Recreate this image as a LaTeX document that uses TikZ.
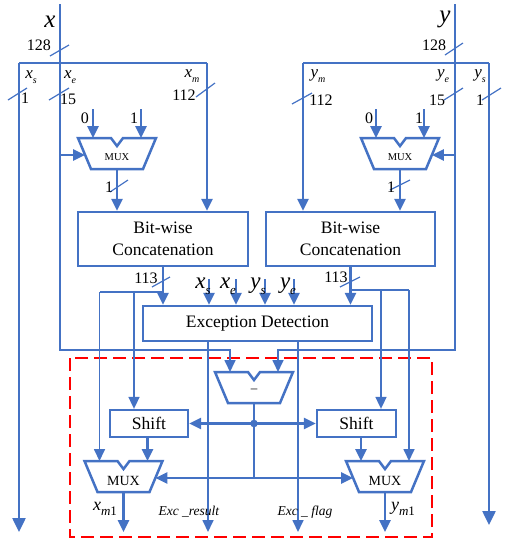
\documentclass[tikz,border=0pt]{standalone}
\usepackage{fontspec}
\setmainfont{Liberation Serif}
\usetikzlibrary{arrows.meta,calc}
\definecolor{wirec}{HTML}{4472C4}
\definecolor{redd}{HTML}{FF0000}
\newcommand{\fs}[1]{\fontsize{#1}{#1}\selectfont}
\newcommand{\vsub}[4]{{\fs{#1}\textit{#3}\raisebox{-0.3em}{\fs{#2}\textit{#4}}}}
\tikzset{
  wire/.style={draw=wirec, line width=2.5pt},
  thinwire/.style={draw=wirec, line width=1.7pt},
  arr/.style={-{Triangle[length=12pt,width=11pt]}},
  bigarr/.style={-{Triangle[length=14pt,width=13pt]}},
  slash/.style={draw=wirec, line width=1.2pt},
  box/.style={draw=wirec, line width=2.3pt, fill=white, inner sep=0pt, font=\fontsize{17.5}{22}\selectfont, align=center},
  lbl/.style={inner sep=0pt, anchor=base, font=\fs{16}},
  pics/mux/.style={code={
     \draw[wire, line join=miter] (-39,0) -- (-6,0) -- (0,8) -- (6,0) -- (39,0) -- (26,31) -- (-26,31) -- cycle;
     \coordinate (-in1) at (-24,0);
     \coordinate (-in2) at (24,0);
     \coordinate (-out) at (0,31);
     \coordinate (-selL) at (-31.9,17);
     \coordinate (-selR) at (31.9,17);
     \node[inner sep=0pt] (-lab) at (0,19.5) {#1};
  }},
}
\begin{document}
\begin{tikzpicture}[x=1pt,y=-1pt]
\useasboundingbox (0,0) rectangle (511,550);

% red dashed region
\draw[draw=redd, line width=2.5pt, dash pattern=on 13pt off 6pt] (70,358) rectangle (432,537);

% blocks
\node[box, minimum width=170pt, minimum height=54pt] (catL) at (163,239) {Bit-wise\\Concatenation};
\node[box, minimum width=169pt, minimum height=54pt] (catR) at (350.5,239) {Bit-wise\\Concatenation};
\node[box, minimum width=229pt, minimum height=35pt] (exc) at (257.5,323.5) {Exception Detection};
\node[box, minimum width=78pt, minimum height=27pt] (shL) at (149,423.5) {Shift};
\node[box, minimum width=79pt, minimum height=27pt] (shR) at (356.5,423.5) {Shift};

\pic (muxA) at (117,138) {mux={\fs{10.5}MUX}};
\pic (muxB) at (400,138) {mux={\fs{10.5}MUX}};
\pic (sub) at (254,372) {mux={\fs{13}\raisebox{2pt}{–}}};
\pic (muxC) at (123.5,461) {mux={\fs{14}MUX}};
\pic (muxD) at (385,461) {mux={\fs{14}MUX}};

% coordinates
\coordinate (xtop) at (60,4);
\coordinate (ytop) at (455,4);
\coordinate (xsb) at (19,63);
\coordinate (xmb) at (207,63);
\coordinate (ymb) at (303,63);
\coordinate (ysb) at (489,63);
\coordinate (xsend) at (19,532);
\coordinate (ysend) at (489,525);
\coordinate (xturn) at (60,350);
\coordinate (yturn) at (455,350);

% inputs x and y
\draw[thinwire,arr] (xtop) -- (xturn) -| (sub-in1);
\draw[thinwire,arr] (ytop) -- (yturn) -| (sub-in2);
\draw[wire] (xsb) -- (xmb);
\draw[wire,bigarr] (xsb) -- (xsend);
\draw[wire,arr] (xmb) -- (xmb |- catL.north);
\draw[wire] (ymb) -- (ysb);
\draw[wire,bigarr] (ysb) -- (ysend);
\draw[wire,arr] (ymb) -- (ymb |- catR.north);

% top muxes
\coordinate (a0) at (93,109);
\coordinate (a1) at (141,109);
\coordinate (b0) at (376,109);
\coordinate (b1) at (424,109);
\draw[wire,arr] (a0) -- (muxA-in1);
\draw[wire,arr] (a1) -- (muxA-in2);
\draw[wire,arr] (b0) -- (muxB-in1);
\draw[wire,arr] (b1) -- (muxB-in2);
\draw[wire,arr] (xtop |- muxA-selL) -- (muxA-selL);
\draw[wire,arr] (ytop |- muxB-selR) -- (muxB-selR);
\draw[wire,arr] (muxA-out) -- (muxA-out |- catL.north);
\draw[wire,arr] (muxB-out) -- (muxB-out |- catR.north);

% concatenation outputs
\coordinate (brL1) at (99.5,292);
\coordinate (brL2) at (134,292);
\coordinate (brL) at (catL.south |- brL1);
\coordinate (brR1) at (381,290);
\coordinate (brR2) at (409,290);
\coordinate (brR) at (catR.south |- brR1);
\draw[wire,arr] (catL.south) -- (catL.south |- exc.north);
\draw[wire,arr] (catR.south) -- (catR.south |- exc.north);
\draw[thinwire] (brL) -- (brL1);
\draw[thinwire,arr] (brL1) -- (muxC-in1);
\draw[thinwire,arr] (brL2) -- (brL2 |- shL.north);
\draw[thinwire] (brR) -- (brR2);
\draw[thinwire,arr] (brR2) -- (muxD-in2);
\draw[thinwire,arr] (brR1) -- (brR1 |- shR.north);

% exception inputs
\foreach \nm/\xx in {xs/209, xe/236, ys/265, ye/294}{
  \coordinate (in-\nm) at (\xx,279);
  \draw[wire,arr] (in-\nm) -- (in-\nm |- exc.north);
}
\node[inner sep=0pt, anchor=base] (lxs) at (203,288) {\vsub{23}{13}{x}{s}};
\node[inner sep=0pt, anchor=base] (lxe) at (228,288) {\vsub{23}{13}{x}{e}};
\node[inner sep=0pt, anchor=base] (lys) at (258,288) {\vsub{23}{13}{y}{s}};
\node[inner sep=0pt, anchor=base] (lye) at (288,288) {\vsub{23}{13}{y}{e}};

% exception outputs
\coordinate (exr) at (208,532);
\coordinate (exf) at (298,532);
\draw[thinwire,arr] (exr |- exc.south) -- (exr);
\draw[thinwire,arr] (exf |- exc.south) -- (exf);

% subtractor, shift and muxes
\coordinate (j1) at (sub-out |- shL.east);
\coordinate (j2) at (sub-out |- muxC-selR);
\draw[thinwire] (sub-out) -- (j2);
\draw[wire,arr] (j1) -- (shL.east);
\draw[wire,arr] (j1) -- (shR.west);
\fill[wirec] (j1) circle (3.8pt);
\draw[wire,arr] (j2) -- (muxC-selR);
\draw[wire,arr] (j2) -- (muxD-selL);
\draw[wire,arr] (muxC-in2 |- shL.south) -- (muxC-in2);
\draw[wire,arr] (muxD-in1 |- shR.south) -- (muxD-in1);
\coordinate (xm1) at (123.5,532);
\coordinate (ym1) at (385,532);
\draw[wire,arr] (muxC-out) -- (xm1);
\draw[wire,arr] (muxD-out) -- (ym1);

% slashes
\draw[slash] (50,56) -- (69,45);
\draw[slash] (8,100) -- (27,88);
\draw[slash] (49,100) -- (69,88);
\draw[slash] (196,97) -- (215,83);
\draw[slash] (110,192) -- (128,180);
\draw[slash] (445,55) -- (463,43);
\draw[slash] (292,104) -- (312,93);
\draw[slash] (444,100) -- (463,88);
\draw[slash] (482,100) -- (501,88);
\draw[slash] (390,190) -- (410,180);
\draw[slash] (152,287) -- (170,277);
\draw[slash] (340,287) -- (360,277);

% labels
\node[inner sep=0pt, anchor=base] (lx) at (50,27) {\fs{25}\textit{x}};
\node[inner sep=0pt, anchor=base] (ly) at (445,22) {\fs{25}\textit{y}};
\node[lbl] (l128x) at (39,50) {128};
\node[lbl] (l128y) at (434,50) {128};
\node[inner sep=0pt, anchor=base] (lxsT) at (31,78) {\vsub{17}{10}{x}{s}};
\node[inner sep=0pt, anchor=base] (lxeT) at (70,78) {\vsub{17}{10}{x}{e}};
\node[inner sep=0pt, anchor=base] (lxmT) at (192,77) {\vsub{17}{10}{x}{m}};
\node[inner sep=0pt, anchor=base] (lymT) at (318,77) {\vsub{17}{10}{y}{m}};
\node[inner sep=0pt, anchor=base] (lyeT) at (443,77) {\vsub{17}{10}{y}{e}};
\node[inner sep=0pt, anchor=base] (lysT) at (480,77) {\vsub{17}{10}{y}{s}};
\node[lbl] (l1xs) at (25,103) {1};
\node[lbl] (l15x) at (68,104) {15};
\node[lbl] (l112x) at (184,100) {112};
\node[lbl] (l112y) at (321,105) {112};
\node[lbl] (l15y) at (437,105) {15};
\node[lbl] (l1ys) at (480,105) {1};
\node[lbl] (l0a) at (85,123) {0};
\node[lbl] (l1a) at (134,123) {1};
\node[lbl] (l0b) at (369,123) {0};
\node[lbl] (l1b) at (419,123) {1};
\node[lbl] (l1oa) at (109,192) {1};
\node[lbl] (l1ob) at (391,192) {1};
\node[lbl] (l113a) at (146,283) {113};
\node[lbl] (l113b) at (336,282) {113};
\node[inner sep=0pt, anchor=base] (lxm1) at (105,510) {\vsub{18}{13}{x}{m\textup{1}}};
\node[inner sep=0pt, anchor=base] (lym1) at (403,510) {\vsub{18}{13}{y}{m\textup{1}}};
\node[inner sep=0pt, anchor=base] (lexr) at (189,515) {\fs{13.5}\textit{Exc \_result}};
\node[inner sep=0pt, anchor=base] (lexf) at (305,515) {\fs{13.5}\textit{Exc \_ flag}};
\end{tikzpicture}
\end{document}
